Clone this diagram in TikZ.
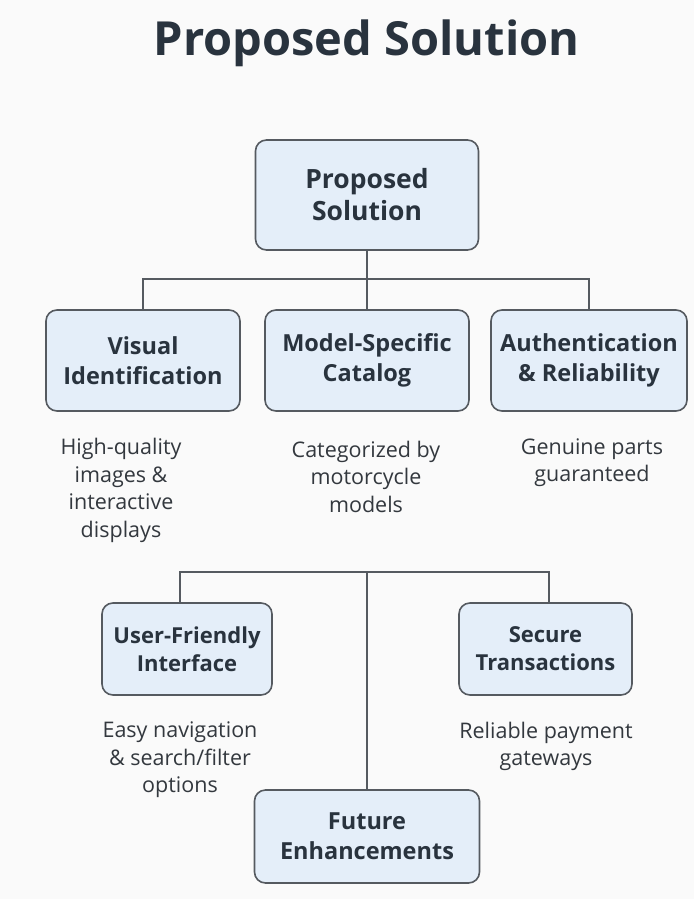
\documentclass[tikz,border=0pt]{standalone}
\usepackage{fontspec}
\setmainfont{Open Sans}
\definecolor{bg}{HTML}{FAFAFA}
\definecolor{boxfill}{HTML}{E4EEF9}
\definecolor{boxline}{HTML}{555A60}
\definecolor{txt}{HTML}{29333E}
\definecolor{desctxt}{HTML}{33383E}
\begin{document}
\begin{tikzpicture}[x=1pt,y=-1pt,
  box/.style={draw=boxline, fill=boxfill, line width=1.6pt, rounded corners=11pt,
    align=center, text=txt, inner sep=0pt, font=\bfseries\fontsize{23.5}{30}\selectfont},
  desc/.style={align=center, text=desctxt, inner sep=0pt, font=\fontsize{21.5}{27.5}\selectfont},
  conn/.style={draw=boxline, line width=1.6pt}]
\fill[bg] (0,0) rectangle (694,899);
\useasboundingbox (0,0) rectangle (694,899);
\node[text=txt, font=\bfseries\fontsize{47}{52}\selectfont] (title) at (366.5,43) {Proposed Solution};

\node[box, minimum width=223pt, minimum height=110pt, font=\bfseries\fontsize{26.5}{32}\selectfont] (top) at (367,195) {Proposed\\Solution};

\node[box, minimum width=194pt, minimum height=101pt] (vis) at (143,360.5) {Visual\\Identification};
\node[box, minimum width=204pt, minimum height=101pt] (mod) at (367,360.5) {Model-Specific\\Catalog};
\node[box, minimum width=196pt, minimum height=101pt] (aut) at (589,360.5) {Authentication\\\& Reliability};

\node[desc] (dvis) at (121,490.5) {High-quality\\images \&\\interactive\\displays};
\node[desc] (dmod) at (366,476.5) {Categorized by\\motorcycle\\models};
\node[desc] (daut) at (592,462.5) {Genuine parts\\guaranteed};

\node[box, minimum width=170pt, minimum height=92pt, font=\bfseries\fontsize{22}{28}\selectfont] (uf) at (187,649) {User-Friendly\\Interface};
\node[box, minimum width=173pt, minimum height=92pt, font=\bfseries\fontsize{22}{28}\selectfont] (sec) at (545.5,649) {Secure\\Transactions};

\node[desc] (duf) at (180,760) {Easy navigation\\\& search/filter\\options};
\node[desc] (dsec) at (546,746.5) {Reliable payment\\gateways};

\node[box, minimum width=225pt, minimum height=93pt] (fut) at (367,836.5) {Future\\Enhancements};

\draw[conn] (top.south) -- (mod.north);
\draw[conn] (vis.north) -- ++(0,-30) -| (aut.north);
\coordinate (j2) at (367,573);
\draw[conn] ([xshift=-7pt]uf.north) -- ++(0,-30) -| ([xshift=3.5pt]sec.north);
\draw[conn] (j2) -- (fut.north);
\end{tikzpicture}
\end{document}
